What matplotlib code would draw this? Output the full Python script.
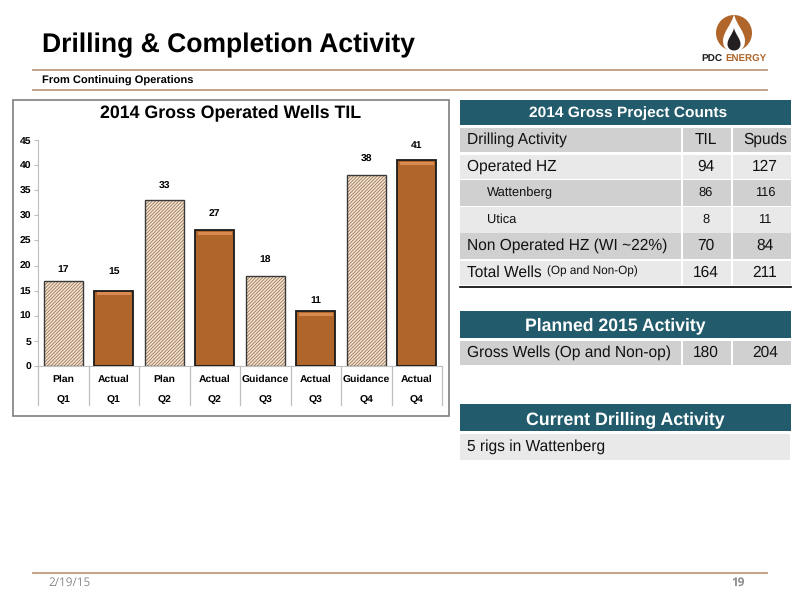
import numpy as np
import matplotlib
matplotlib.use("Agg")
import matplotlib.pyplot as plt
from matplotlib.patches import Rectangle, Circle, PathPatch
from matplotlib.path import Path

plt.rcParams['font.family'] = ['Liberation Sans', 'DejaVu Sans']
plt.rcParams['text.hinting'] = 'no_hinting'
plt.rcParams['hatch.linewidth'] = 0.55

# chart data
bar_types = ["Plan", "Actual", "Plan", "Actual", "Guidance", "Actual", "Guidance", "Actual"]
quarters = ["Q1", "Q1", "Q2", "Q2", "Q3", "Q3", "Q4", "Q4"]
wells = [17, 15, 33, 27, 18, 11, 38, 41]
y_ticks = [0, 5, 10, 15, 20, 25, 30, 35, 40, 45]

# table data
count_labels = ["Drilling Activity", "Operated HZ", "Wattenberg", "Utica", "Non Operated HZ (WI ~22%)", "Total Wells"]
count_til = ["TIL", "94", "86", "8", "70", "164"]
count_spuds = ["Spuds", "127", "116", "11", "84", "211"]
planned_label = "Gross Wells (Op and Non-op)"
planned_til = "180"
planned_spuds = "204"
current_label = "5 rigs in Wattenberg"

# how far each value label sits above its bar, in pixels
label_gap_px = [11, 19, 14, 17, 15, 10, 16, 15]

W, H = 800, 600
BROWN = "#B0662A"
TEAL = "#225B6B"
DARK_ROW = "#D0D0D0"
LIGHT_ROW = "#E9E9E9"
RULE = "#BE9C80"

fig = plt.figure(figsize=(8, 6), dpi=100)

# overlay in pixel coords for everything that is not the bar chart
bg = fig.add_axes([0, 0, 1, 1])
bg.set_xlim(0, W)
bg.set_ylim(H, 0)
bg.axis("off")


def rect(x0, y0, x1, y1, color, **kw):
    bg.add_patch(Rectangle((x0, y0), x1 - x0, y1 - y0, facecolor=color, edgecolor="none", **kw))


def blob(cx, top, bottom, half):
    # teardrop with its point up
    mid = bottom - half
    verts = [(cx, top),
             (cx - half * 0.2, top + (mid - top) * 0.4), (cx - half, mid - (mid - top) * 0.35), (cx - half, mid),
             (cx - half, mid + half * 0.6), (cx - half * 0.6, bottom), (cx, bottom),
             (cx + half * 0.6, bottom), (cx + half, mid + half * 0.6), (cx + half, mid),
             (cx + half, mid - (mid - top) * 0.35), (cx + half * 0.2, top + (mid - top) * 0.4), (cx, top)]
    codes = [Path.MOVETO] + [Path.CURVE4] * 12
    return Path(verts, codes)


# page header and footer
bg.text(42, 45, "Drilling & Completion Activity", fontsize=19.1, fontweight="bold", va="center", color="black")
bg.text(42, 81, "From Continuing Operations", fontsize=8, fontweight="bold", va="center", color="black")
bg.plot([33, 767], [70, 70], color=RULE, lw=1.3)
bg.plot([33, 767], [90, 90], color=RULE, lw=1.3)
bg.plot([33, 767], [573, 573], color=RULE, lw=1.3)
bg.text(48, 583, "2/19/15", fontsize=8.5, color="#8A8A8A", va="center", family="Open Sans")
bg.text(738, 583, "19", fontsize=8.5, color="#8A8A8A", va="center", ha="center", family="Open Sans", fontweight="bold")

# logo
bg.add_patch(Circle((734, 33), 18, facecolor=BROWN, edgecolor="none"))
bg.add_patch(PathPatch(blob(734, 14, 52, 11), facecolor="white", edgecolor="none"))
bg.add_patch(PathPatch(blob(734, 28, 50.5, 6.5), facecolor="#231F20", edgecolor="none"))
bg.text(701, 59, "PDC", fontsize=7.2, fontweight="bold", color="#231F20", va="center")
bg.text(725, 59, "ENERGY", fontsize=7.0, fontweight="bold", color=BROWN, va="center")

# chart frame
bg.add_patch(Rectangle((13, 100), 436, 316, facecolor="white", edgecolor="#7F7F7F", lw=1.2))
bg.text(231, 113, "2014 Gross Operated Wells TIL", fontsize=12.8, fontweight="bold", ha="center", va="center")

# table 1
rect(460, 100, 791, 125, TEAL)
bg.text(628, 113, "2014 Gross Project Counts", fontsize=11.15, fontweight="bold", color="white", ha="center", va="center")
row_tops = [128, 155, 180, 207, 233, 261]
row_bottoms = [152, 179, 206, 233, 259, 285]
row_colors = [DARK_ROW, LIGHT_ROW, DARK_ROW, LIGHT_ROW, DARK_ROW, LIGHT_ROW]
for i in range(len(count_labels)):
    rect(460, row_tops[i], 791, row_bottoms[i], row_colors[i])
    y = (row_tops[i] + row_bottoms[i]) / 2
    small = count_labels[i] in ("Wattenberg", "Utica")
    size = 9.3 if small else 11.2
    bg.text(487 if small else 467, y, count_labels[i], fontsize=size, va="center", color="#111111")
    bg.text(706, y, count_til[i], fontsize=size, ha="center", va="center", color="#111111")
    bg.text(765, y, count_spuds[i], fontsize=size, ha="center", va="center", color="#111111")
bg.text(547, 271, "(Op and Non-Op)", fontsize=8.5, va="center", color="#111111")
rect(681, 128, 682.5, 285, "white")
rect(731, 128, 732.5, 285, "white")
bg.plot([460, 791], [286.5, 286.5], color="black", lw=1.2)

# table 2
rect(460, 311, 791, 338, TEAL)
bg.text(615, 326, "Planned 2015 Activity", fontsize=12.7, fontweight="bold", color="white", ha="center", va="center")
rect(460, 341, 791, 365, DARK_ROW)
bg.text(467, 353, planned_label, fontsize=11.2, va="center", color="#111111")
bg.text(706, 353, planned_til, fontsize=11.2, ha="center", va="center", color="#111111")
bg.text(765, 353, planned_spuds, fontsize=11.2, ha="center", va="center", color="#111111")
rect(681, 341, 682.5, 365, "white")
rect(731, 341, 732.5, 365, "white")

# table 3
rect(460, 404, 791, 431, TEAL)
bg.text(625, 420, "Current Drilling Activity", fontsize=12.8, fontweight="bold", color="white", ha="center", va="center")
rect(460, 434, 790, 460, LIGHT_ROW)
bg.text(467, 447, current_label, fontsize=11.2, va="center", color="#111111")

# bar chart
ax_left, ax_right, ax_top, ax_bottom = 38, 442, 140, 366
ax = fig.add_axes([ax_left / W, 1 - ax_bottom / H, (ax_right - ax_left) / W, (ax_bottom - ax_top) / H])
ax.patch.set_alpha(0)
x = np.arange(len(wells))
px_per_unit = (ax_bottom - ax_top) / 45
for i in x:
    if bar_types[i] == "Actual":
        ax.bar(i, wells[i], width=0.77, color=BROWN, edgecolor="#1A1A1A", linewidth=1.3, zorder=3)
        ax.bar(i, 0.6, bottom=wells[i] - 0.95, width=0.68, color="#D98A4E", zorder=4)
    else:
        ax.bar(i, wells[i], width=0.77, color="#F1E2D2", edgecolor="#96704E", hatch="/" * 10, linewidth=0, zorder=3)
        ax.bar(i, wells[i], width=0.77, facecolor="none", edgecolor="#3A3A3A", linewidth=1.0, zorder=4)
    ax.text(i, wells[i] + label_gap_px[i] / px_per_unit, str(wells[i]), fontsize=7.5, fontweight="bold", ha="center", va="center")

ax.set_xlim(-0.5, len(wells) - 0.5)
ax.set_ylim(0, 45)
ax.set_yticks(y_ticks)
ax.tick_params(axis="y", labelsize=7.5, length=3, color="#BFBFBF", pad=2)
for lab in ax.get_yticklabels():
    lab.set_fontweight("bold")
ax.set_xticks([])
for s in ("top", "right"):
    ax.spines[s].set_visible(False)
ax.spines["left"].set_color("#BFBFBF")
ax.spines["bottom"].set_color("#BFBFBF")

# two level category labels under the axis
trans = ax.get_xaxis_transform()
for i in range(len(wells) + 1):
    ax.plot([i - 0.5, i - 0.5], [0, -39 / 226], transform=trans, color="#BFBFBF", lw=0.9, clip_on=False)
for i in x:
    ax.text(i, -13 / 226, bar_types[i], transform=trans, fontsize=7.5, fontweight="bold", ha="center", va="center")
    ax.text(i, -33 / 226, quarters[i], transform=trans, fontsize=7.5, fontweight="bold", ha="center", va="center")

fig.savefig("out.png", dpi=100)
